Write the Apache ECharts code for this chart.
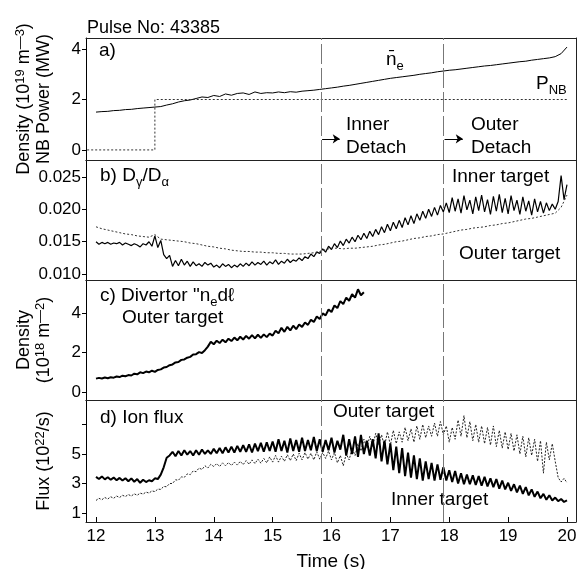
<!DOCTYPE html>
<html>
<head>
<meta charset="utf-8">
<script src="https://cdn.jsdelivr.net/npm/echarts@6.0.0/dist/echarts.min.js"></script>
<style>
html, body { margin: 0; padding: 0; background: #fff; }
#main { width: 577px; height: 569px; }
</style>
</head>
<body>
<div id="main"></div>
<script>
// sampling of the traces
var T0 = 12;
var DT_FINE = 0.05;
var DT_COARSE = 0.1;

var timeTicks = [12, 13, 14, 15, 16, 17, 18, 19, 20];
var detachTimes = [15.82, 17.9];

// a) line averaged density (10^19 m^-3), every 0.1 s
var neValues = [1.50, 1.52, 1.53, 1.56, 1.57, 1.60, 1.61, 1.64, 1.66, 1.68,
  1.70, 1.72, 1.78, 1.83, 1.90, 1.95, 1.98, 2.04, 2.10, 2.08,
  2.16, 2.12, 2.22, 2.17, 2.24, 2.26, 2.20, 2.30, 2.24, 2.27,
  2.26, 2.30, 2.27, 2.31, 2.29, 2.33, 2.35, 2.37, 2.40, 2.43,
  2.46, 2.49, 2.53, 2.56, 2.60, 2.64, 2.68, 2.72, 2.76, 2.80,
  2.84, 2.87, 2.90, 2.93, 2.96, 3.00, 3.03, 3.06, 3.10, 3.13,
  3.16, 3.18, 3.21, 3.24, 3.27, 3.30, 3.33, 3.35, 3.38, 3.41,
  3.44, 3.47, 3.50, 3.52, 3.56, 3.59, 3.62, 3.65, 3.70, 3.82,
  4.08];
// a) NB power (MW)
var pnbTimes = [11.85, 13, 13, 20];
var pnbValues = [0, 0, 2, 2];

// b) Dgamma/Dalpha inner target, every 0.05 s
var dgInnerValues = [.0150, .0146, .0149, .0147, .0149, .0146, .0148, .0147, .0149, .0145,
  .0148, .0146, .0144, .0147, .0145, .0142, .0147, .0145, .0150, .0143,
  .0159, .0141, .0152, .0130, .0124, .0129, .0112, .0121, .0113, .0123,
  .0114, .0120, .0112, .0119, .0113, .0116, .0112, .0118, .0114, .0117,
  .0111, .0114, .0110, .0116, .0112, .0115, .0110, .0114, .0111, .0116,
  .0112, .0117, .0113, .0119, .0114, .0118, .0115, .0120, .0114, .0119,
  .0116, .0122, .0115, .0120, .0117, .0123, .0118, .0122, .0120, .0125,
  .0121, .0127, .0124, .0131, .0127, .0134, .0132, .0139, .0134, .0143,
  .0138, .0147, .0141, .0151, .0144, .0154, .0148, .0157, .0150, .0160,
  .0153, .0163, .0155, .0166, .0158, .0169, .0161, .0173, .0164, .0177,
  .0167, .0180, .0170, .0183, .0172, .0187, .0176, .0190, .0178, .0193,
  .0183, .0197, .0186, .0200, .0189, .0203, .0191, .0206, .0196, .0210,
  .0195, .0218, .0197, .0216, .0194, .0221, .0199, .0214, .0193, .0219,
  .0198, .0222, .0196, .0215, .0192, .0220, .0197, .0223, .0195, .0217,
  .0193, .0221, .0198, .0214, .0192, .0219, .0197, .0213, .0191, .0216,
  .0196, .0212, .0194, .0210, .0198, .0208, .0200, .0212, .0252, .0215,
  .0238];
// b) Dgamma/Dalpha outer target, every 0.1 s
var dgOuterValues = [.0173, .0170, .0168, .0166, .0164, .0162, .0161, .0159, .0158, .0157,
  .0161, .0154, .0153, .0152, .0151, .0150, .0148, .0147, .0145, .0143,
  .0142, .0140, .0139, .0137, .0136, .0135, .0135, .0134, .0134, .0133,
  .0133, .0132, .0132, .0131, .0131, .0131, .0132, .0133, .0135, .0138,
  .0140, .0140, .0139, .0140, .0140, .0141, .0142, .0143, .0145, .0146,
  .0148, .0150, .0151, .0153, .0155, .0156, .0158, .0159, .0161, .0162,
  .0164, .0166, .0168, .0169, .0171, .0172, .0173, .0175, .0176, .0178,
  .0179, .0181, .0183, .0185, .0186, .0188, .0190, .0192, .0194, .0203,
  .0222];

// c) divertor density, outer target (10^18 m^-2), every 0.05 s
var divDensValues = [0.68, 0.72, 0.69, 0.74, 0.70, 0.75, 0.73, 0.79, 0.76, 0.83,
  0.80, 0.86, 0.84, 0.93, 0.90, 1.00, 0.96, 1.04, 1.00, 1.08,
  1.02, 1.12, 1.15, 1.24, 1.27, 1.36, 1.40, 1.50, 1.52, 1.63,
  1.65, 1.74, 1.78, 1.90, 1.92, 2.02, 1.98, 2.12, 2.30, 2.55,
  2.42, 2.60, 2.48, 2.65, 2.52, 2.70, 2.58, 2.76, 2.62, 2.80,
  2.66, 2.84, 2.70, 2.88, 2.72, 2.90, 2.74, 2.92, 2.78, 2.96,
  2.86, 3.10, 2.98, 3.25, 3.05, 3.30, 3.12, 3.36, 3.18, 3.42,
  3.30, 3.52, 3.40, 3.66, 3.55, 3.82, 3.70, 3.98, 3.88, 4.18,
  4.05, 4.38, 4.25, 4.60, 4.45, 4.78, 4.62, 4.95, 4.78, 5.20,
  4.90, 5.05];

// d) ion flux (10^22/s), every 0.05 s
var fluxInnerValues = [3.45, 3.30, 3.48, 3.28, 3.42, 3.25, 3.40, 3.22, 3.38, 3.20,
  3.36, 3.15, 3.35, 3.12, 3.30, 3.05, 3.25, 3.10, 3.22, 3.15,
  3.35, 3.30, 3.60, 4.10, 4.75, 4.90, 5.15, 4.85, 5.20, 4.90,
  5.25, 4.95, 5.20, 4.90, 5.25, 4.95, 5.30, 5.00, 5.25, 5.00,
  5.35, 5.05, 5.40, 5.05, 5.45, 5.10, 5.50, 5.10, 5.55, 5.15,
  5.60, 5.15, 5.65, 5.10, 5.70, 5.20, 5.75, 5.15, 5.80, 5.20,
  5.85, 5.15, 6.00, 5.20, 5.90, 5.10, 6.05, 5.20, 5.95, 5.15,
  6.10, 5.20, 5.95, 5.25, 6.15, 5.20, 6.00, 5.15, 5.95, 5.25,
  6.10, 5.10, 5.90, 5.30, 6.30, 4.90, 6.00, 5.00, 6.20, 4.80,
  6.30, 5.00, 5.90, 4.90, 6.00, 4.70, 6.40, 4.50, 5.90, 4.30,
  5.70, 3.90, 5.50, 3.70, 5.40, 3.50, 5.10, 3.40, 4.90, 3.30,
  4.70, 3.20, 4.50, 3.30, 4.40, 3.20, 4.30, 3.25, 4.10, 3.20,
  3.90, 3.10, 3.85, 3.00, 3.70, 2.95, 3.60, 2.95, 3.55, 2.90,
  3.50, 2.85, 3.45, 2.80, 3.35, 2.75, 3.30, 2.65, 3.20, 2.60,
  3.05, 2.50, 2.95, 2.40, 2.85, 2.30, 2.75, 2.20, 2.60, 2.10,
  2.45, 2.00, 2.30, 1.90, 2.20, 1.85, 2.05, 1.80, 1.95, 1.75,
  1.85];
var fluxOuterValues = [1.85, 2.00, 1.90, 2.05, 1.95, 2.10, 2.00, 2.15, 2.05, 2.20,
  2.12, 2.25, 2.15, 2.30, 2.20, 2.35, 2.28, 2.42, 2.35, 2.50,
  2.45, 2.62, 2.60, 2.80, 2.78, 3.00, 3.00, 3.25, 3.22, 3.45,
  3.42, 3.65, 3.60, 3.85, 3.80, 4.05, 3.95, 4.20, 4.05, 4.30,
  4.15, 4.35, 4.15, 4.40, 4.20, 4.42, 4.22, 4.45, 4.25, 4.50,
  4.28, 4.55, 4.30, 4.60, 4.35, 4.65, 4.38, 4.70, 4.40, 4.80,
  4.45, 4.90, 4.45, 4.85, 4.50, 4.95, 4.55, 5.00, 4.55, 5.05,
  4.60, 5.10, 4.65, 5.05, 4.60, 5.15, 4.65, 5.10, 4.70, 5.20,
  4.60, 5.10, 4.40, 4.90, 4.20, 5.00, 4.60, 5.40, 4.90, 5.70,
  5.20, 6.00, 5.40, 6.20, 5.50, 6.40, 5.60, 6.30, 5.50, 6.50,
  5.60, 6.60, 5.70, 6.50, 5.80, 6.80, 5.90, 6.70, 5.80, 6.90,
  6.00, 7.00, 6.10, 6.90, 6.20, 7.10, 6.20, 7.20, 6.30, 6.90,
  5.80, 6.80, 6.00, 7.30, 6.20, 7.60, 6.10, 7.20, 5.90, 7.00,
  5.80, 6.90, 5.70, 6.80, 5.60, 6.90, 5.50, 6.60, 5.40, 6.50,
  5.30, 6.40, 5.20, 6.30, 5.00, 6.20, 4.80, 6.10, 4.90, 6.00,
  4.50, 5.90, 3.70, 5.80, 4.60, 5.70, 4.50, 3.40, 3.10, 3.35,
  3.05];

function pairs(values, dt) {
  return values.map(function (v, i) {
    return [+(T0 + i * dt).toFixed(2), v];
  });
}

var FONT = 'Liberation Sans';
var myChart = echarts.init(document.getElementById('main'));

var tops = [38, 160, 280, 400];
var heights = [122, 120, 120, 122];
var grids = tops.map(function (t, i) {
  return { left: 86, width: 490, top: t, height: heights[i], show: false, outerBoundsMode: 'none' };
});

var frameLine = { show: true, onZero: false, lineStyle: { color: '#222', width: 1 } };

// bottom + top x axes per panel (top ones only draw the frame)
var xAxes = [];
[0, 1, 2, 3].forEach(function (i) {
  var last = i === 3;
  xAxes.push({
    type: 'value', gridIndex: i, min: 11.83, max: 20.153, position: 'bottom',
    splitLine: { show: false },
    axisLine: frameLine,
    axisTick: { show: last, inside: true, length: 5, customValues: timeTicks, lineStyle: { color: '#000' } },
    axisLabel: { show: last, customValues: timeTicks, margin: 6, color: '#000', fontSize: 17, fontFamily: FONT },
    name: last ? 'Time (s)' : '',
    nameLocation: 'middle', nameGap: 30,
    nameTextStyle: { color: '#000', fontSize: 19, fontFamily: FONT }
  });
  xAxes.push({
    type: 'value', gridIndex: i, min: 11.83, max: 20.153, position: 'top',
    splitLine: { show: false }, axisLine: frameLine,
    axisTick: { show: false }, axisLabel: { show: false }
  });
});

var supRich = { sup: { fontSize: 13, lineHeight: 10, verticalAlign: 'top', fontFamily: FONT, color: '#000' } };
function yAx(i, min, max, ticks, labels, name, fmt) {
  return {
    type: 'value', gridIndex: i, min: min, max: max, position: 'left',
    splitLine: { show: false },
    axisLine: { show: true, onZero: false, lineStyle: { color: '#000', width: 1 } },
    axisTick: { show: true, inside: false, length: 4, customValues: ticks, lineStyle: { color: '#000' } },
    axisLabel: { customValues: labels, margin: 5, color: '#000', fontSize: 17, fontFamily: FONT, formatter: fmt },
    name: name, nameLocation: 'middle', nameGap: 32, nameRotate: 90,
    nameTextStyle: { color: '#000', fontSize: 18, lineHeight: 20, fontFamily: FONT, rich: supRich }
  };
}
function yRight(i, min, max) {
  return {
    type: 'value', gridIndex: i, min: min, max: max, position: 'right',
    splitLine: { show: false }, axisLine: frameLine,
    axisTick: { show: false }, axisLabel: { show: false }
  };
}
var yAxes = [
  yAx(0, -0.4, 4.44, [0, 2, 4], [0, 2, 4], 'Density (10{sup|19} m{sup|\u20143})\nNB Power (MW)'),
  yRight(0, -0.4, 4.44),
  yAx(1, 0.0091, 0.0276, [0.010, 0.015, 0.020, 0.025], [0.010, 0.015, 0.020, 0.025], '',
    function (v) { return v.toFixed(3); }),
  yRight(1, 0.0091, 0.0276),
  yAx(2, -0.4, 5.67, [0, 2, 4], [0, 2, 4], 'Density\n(10{sup|18} m{sup|\u20142})'),
  yRight(2, -0.4, 5.67),
  yAx(3, 0.39, 8.66, [1, 3, 5, 7], [1, 3, 5], 'Flux (10{sup|22}/s)'),
  yRight(3, 0.39, 8.66)
];

var dashStyle = { color: '#777', width: 1, type: [20, 4] };
function detachLines() {
  return {
    silent: true, symbol: 'none', label: { show: false }, lineStyle: dashStyle,
    data: detachTimes.map(function (t) { return { xAxis: t }; })
  };
}

var series = [
  {
    name: 'ne', type: 'line', xAxisIndex: 0, yAxisIndex: 0, showSymbol: false,
    lineStyle: { color: '#000', width: 1 }, data: pairs(neValues, DT_COARSE),
    markLine: detachLines()
  },
  {
    name: 'PNB', type: 'line', xAxisIndex: 0, yAxisIndex: 0, showSymbol: false,
    lineStyle: { color: '#333', width: 1, type: [2, 2] },
    data: pnbTimes.map(function (t, i) { return [t, pnbValues[i]]; }),
    markLine: {
      silent: true, symbol: ['none', 'arrow'], symbolSize: 7, label: { show: false },
      lineStyle: { color: '#000', width: 1, type: 'solid' },
      data: [
        [{ coord: [15.84, 0.44] }, { coord: [16.14, 0.44] }],
        [{ coord: [17.92, 0.44] }, { coord: [18.23, 0.44] }]
      ]
    }
  },
  {
    name: 'dgInner', type: 'line', xAxisIndex: 2, yAxisIndex: 2, showSymbol: false,
    lineStyle: { color: '#000', width: 1.2 }, data: pairs(dgInnerValues, DT_FINE),
    markLine: detachLines()
  },
  {
    name: 'dgOuter', type: 'line', xAxisIndex: 2, yAxisIndex: 2, showSymbol: false,
    lineStyle: { color: '#333', width: 1, type: [2, 2] }, data: pairs(dgOuterValues, DT_COARSE)
  },
  {
    name: 'divDens', type: 'line', xAxisIndex: 4, yAxisIndex: 4, showSymbol: false,
    lineStyle: { color: '#000', width: 2 }, data: pairs(divDensValues, DT_FINE),
    markLine: detachLines()
  },
  {
    name: 'fluxOuter', type: 'line', xAxisIndex: 6, yAxisIndex: 6, showSymbol: false,
    lineStyle: { color: '#222', width: 1, type: [2, 1.5] }, data: pairs(fluxOuterValues, DT_FINE)
  },
  {
    name: 'fluxInner', type: 'line', xAxisIndex: 6, yAxisIndex: 6, showSymbol: false,
    lineStyle: { color: '#000', width: 2 }, data: pairs(fluxInnerValues, DT_FINE),
    markLine: detachLines()
  }
];

var subRich = {
  m: { fontSize: 19, lineHeight: 26, fontFamily: FONT, fill: '#000' },
  s: { fontSize: 13, lineHeight: 13, verticalAlign: 'bottom', fontFamily: FONT, fill: '#000' }
};
function label(x, y, text, size, rich) {
  var st = { text: text, fontSize: size || 19, fontFamily: FONT, fill: '#000' };
  if (rich) st.rich = subRich;
  return { type: 'text', left: x, top: y, silent: true, style: st };
}

var graphics = [
  label(87, 19, 'Pulse No: 43385', 18),
  label(99, 41, 'a)'),
  label(386, 50, '{m|n\u0304}{s|e}', 19, true),
  label(536, 74, '{m|P}{s|NB}', 19, true),
  label(346, 115, 'Inner'),
  label(346, 138, 'Detach'),
  label(471, 115, 'Outer'),
  label(471, 138, 'Detach'),
  label(100, 166, '{m|b) D}{s|\u03b3}{m|/D}{s|\u03b1}', 19, true),
  label(452, 167, 'Inner target'),
  label(459, 244, 'Outer target'),
  label(100, 286, '{m|c) Divertor "n}{s|e}{m|d\u2113}', 19, true),
  label(122, 308, 'Outer target'),
  label(100, 408, 'd) Ion flux'),
  label(333, 402, 'Outer target'),
  label(391, 490, 'Inner target')
];

var option = {
  backgroundColor: '#fff',
  animation: false,
  textStyle: { fontFamily: FONT, color: '#000' },
  grid: grids,
  xAxis: xAxes,
  yAxis: yAxes,
  series: series,
  graphic: graphics
};
myChart.setOption(option, true);
</script>
</body>
</html>
